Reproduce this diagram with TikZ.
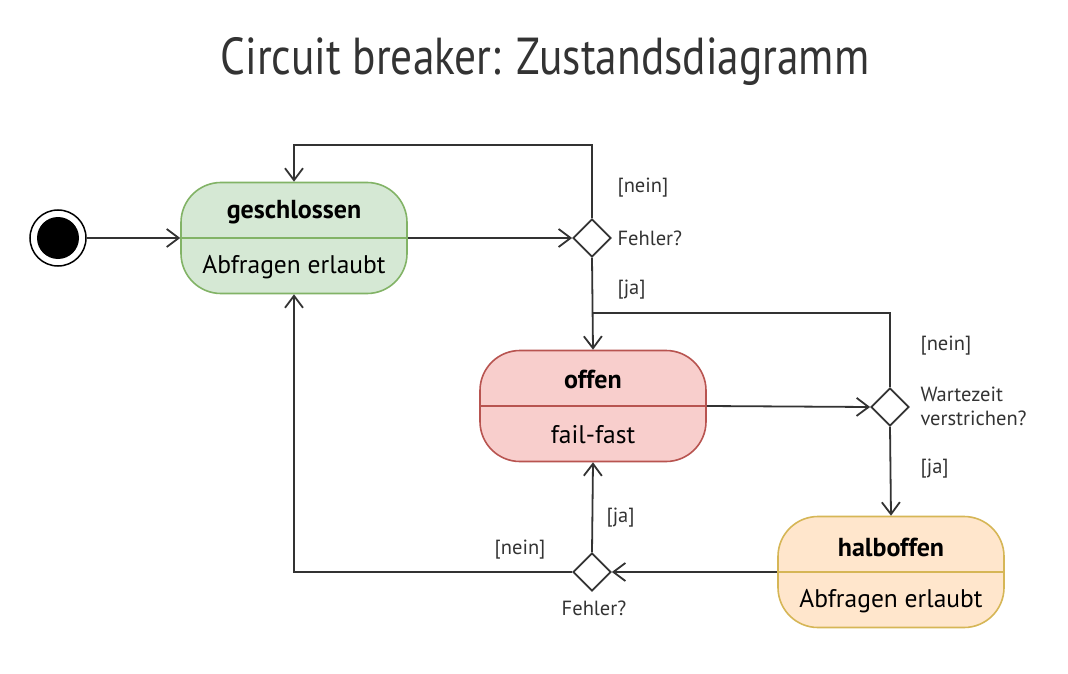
\documentclass[tikz,border=0pt]{standalone}
\usepackage{fontspec}
\setmainfont{PT Sans}
\newfontfamily\titlefont[FakeStretch=0.835]{PT Sans}
\usetikzlibrary{arrows.meta, positioning, shapes.geometric}
\definecolor{linegray}{HTML}{333333}
\definecolor{greenfill}{HTML}{D5E8D4}
\definecolor{greenline}{HTML}{82B366}
\definecolor{redfill}{HTML}{F8CECC}
\definecolor{redline}{HTML}{B85450}
\definecolor{orangefill}{HTML}{FFE6CC}
\definecolor{orangeline}{HTML}{D6B656}

\begin{document}
\begin{tikzpicture}[x=1pt, y=-1pt, state/.style={draw, line width=1.6pt,
      rounded corners=40pt, minimum width=226pt, minimum height=111pt},
      choice/.style={diamond, draw=linegray, line width=1.8pt, minimum
      width=38pt, minimum height=38pt, inner sep=0pt},
      flow/.style={draw=linegray, line width=1.8pt, -{Straight Barb[length=12pt,
      width=18pt, line width=1.8pt]}}, line/.style={draw=linegray, line
      width=1.8pt}, guard/.style={anchor=west, text=linegray,
      font=\fontsize{20.5pt}{24pt}\selectfont}, statename/.style={text=black,
      font=\bfseries\fontsize{26pt}{30pt}\selectfont},
      statetext/.style={text=black, font=\fontsize{25.5pt}{30pt}\selectfont} ]

    % Page and title
    \useasboundingbox[fill=white] (0,0) rectangle (1068,674);
    \node[text=linegray, font=\titlefont\fontsize{52pt}{60pt}\selectfont]
    (title) at (545,62) {Circuit breaker: Zustandsdiagramm};

    % Initial state
    \node[circle, draw=black, line width=1.5pt, minimum size=56pt] (start) at
    (58,238) {}; \node[circle, fill=black, minimum size=42pt] (startdot) at
    (start) {};

    % States
    \node[state, draw=greenline, fill=greenfill] (geschlossen) at (294,238) {};
    \node[state, draw=redline, fill=redfill] (offen) at (593,406) {};
    \node[state, draw=orangeline, fill=orangefill] (halboffen) at (891,572) {};

    % Dividers and state texts
    \draw[greenline, line width=1.6pt] (geschlossen.west) -- (geschlossen.east);
    \draw[redline, line width=1.6pt] (offen.west) -- (offen.east);
    \draw[orangeline, line width=1.6pt] (halboffen.west) -- (halboffen.east);
    \node[statename] at (294,212) {geschlossen};
    \node[statetext] at (294,267) {Abfragen erlaubt};
    \node[statename] at (593,379) {offen};
    \node[statetext] at (593,435) {fail-fast};
    \node[statename] at (891,547) {halboffen};
    \node[statetext] at (891,601) {Abfragen erlaubt};

    % Decisions
    \node[choice] (fehlerA) at (592,238) {};
    \node[choice] (wartezeit) at (890,407) {};
    \node[choice] (fehlerB) at (592,572) {};

    % Helper points
    \coordinate (loopA) at (592,145);
    \coordinate (join) at (592,313);

    % Transitions
    \draw[flow] (start) -- (geschlossen.west);
    \draw[flow] (geschlossen.east) -- (fehlerA.west);
    \draw[flow] (fehlerA.north) -- (loopA) -| (geschlossen.north);
    \draw[flow] (fehlerA.south) -- (offen.north);
    \draw[flow] (offen.east) -- (wartezeit.west);
    \draw[line] (wartezeit.north) |- (join);
    \draw[flow] (wartezeit.south) -- (halboffen.north);
    \draw[flow] (halboffen.west) -- (fehlerB.east);
    \draw[flow] (fehlerB.north) -- (offen.south);
    \draw[flow] (fehlerB.west) -| (geschlossen.south);

    % Guard labels
    \node[guard] at (614,188) {[nein]};
    \node[guard] at (614,238) {Fehler?};
    \node[guard] at (614,290) {[ja]};
    \node[guard] at (917,346) {[nein]};
    \node[guard, align=left] at (917,406) {Wartezeit\\verstrichen?};
    \node[guard] at (917,469) {[ja]};
    \node[guard] at (603,518) {[ja]};
    \node[guard, anchor=east] at (549,550) {[nein]};
    \node[guard, anchor=center] at (594,608) {Fehler?};

    \end{tikzpicture}
\end{document}
